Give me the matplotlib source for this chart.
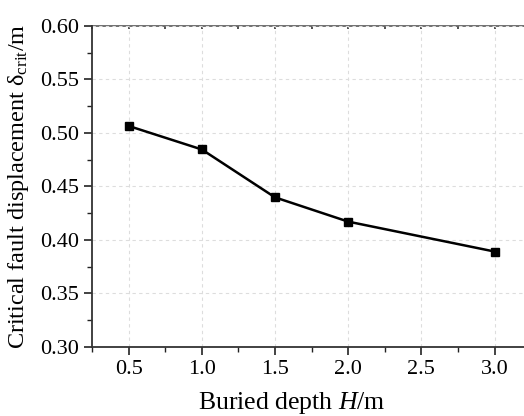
import matplotlib
matplotlib.use("Agg")
import matplotlib.pyplot as plt
from matplotlib.ticker import MultipleLocator

plt.rcParams['font.family'] = ['Liberation Serif', 'DejaVu Serif']
plt.rcParams['mathtext.fontset'] = 'custom'
plt.rcParams['mathtext.rm'] = 'Liberation Serif'
plt.rcParams['mathtext.it'] = 'Liberation Serif:italic'

# data
depth = [0.5, 1.0, 1.5, 2.0, 3.0]
delta_crit = [0.5065, 0.4845, 0.4397, 0.417, 0.389]

fig = plt.figure(figsize=(5.24, 4.16), dpi=100)
# the original figure is cut off on the right, so the axes run past the canvas
ax = fig.add_axes([0.1756, 0.1666, 0.8764, 0.7709])

ax.plot(depth, delta_crit, color='black', lw=1.8, marker='s', markersize=6, zorder=3)

ax.set_xlim(0.25, 3.387)
ax.set_ylim(0.30, 0.60)
ax.xaxis.set_major_locator(MultipleLocator(0.5))
ax.xaxis.set_minor_locator(MultipleLocator(0.25))
ax.yaxis.set_major_locator(MultipleLocator(0.05))
ax.yaxis.set_minor_locator(MultipleLocator(0.025))
ax.xaxis.set_major_formatter(plt.FuncFormatter(lambda v, p: f'{v:.1f}'))
ax.yaxis.set_major_formatter(plt.FuncFormatter(lambda v, p: f'{v:.2f}'))

ax.tick_params(which='major', direction='out', length=6, width=1.2, labelsize=16, color='#222222')
ax.tick_params(which='minor', direction='out', length=3.5, width=1.0, color='#222222')

# small inward ticks on the top edge
top = ax.secondary_xaxis('top')
top.xaxis.set_major_locator(MultipleLocator(0.5))
top.xaxis.set_minor_locator(MultipleLocator(0.25))
top.tick_params(which='both', direction='in', length=2, width=1.2, labeltop=False, color='#333333')
top.spines['top'].set_color('#666666')
top.spines['top'].set_linewidth(1.3)

ax.grid(True, which='major', linestyle=(0, (3, 3)), color='#dddddd', lw=0.8)
for s in ['left', 'bottom']:
    ax.spines[s].set_color('#333333')
    ax.spines[s].set_linewidth(1.3)
ax.spines['top'].set_visible(False)
ax.spines['right'].set_visible(False)

ax.set_xlabel(r'Buried depth $\mathit{H}$/m', fontsize=18.5)
ax.xaxis.set_label_coords(0.435, -0.135)
ax.set_ylabel(r'Critical fault displacement δ$_{\mathrm{crit}}$/m', fontsize=17.5, labelpad=6)

fig.savefig('out.png', dpi=100)
